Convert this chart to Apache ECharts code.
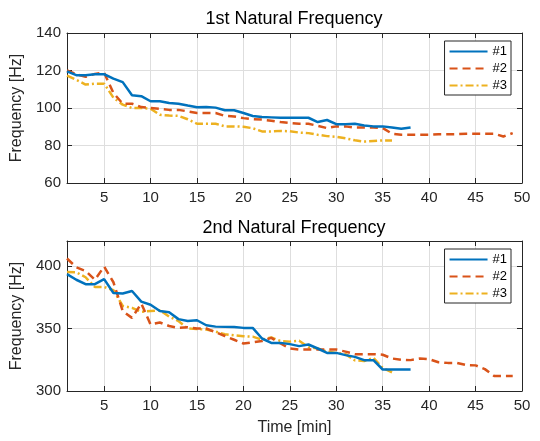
<!DOCTYPE html>
<html>
<head>
    <meta charset="utf-8"/>
    <title>Natural Frequency</title>
    <script src="https://cdn.jsdelivr.net/npm/echarts@6/dist/echarts.min.js"></script>
</head>
<body style="margin:0;">
    <div id="main" style="width: 540px; height: 441px;"></div>
    <script type="text/javascript">
        // 1st natural frequency [Hz], one value per minute starting at t = 1
        var f1_s1 = [119.5, 117.5, 117.5, 118, 118, 115.7, 113.8, 106.8, 106.3, 103.6, 103.6, 102.7, 102.3, 101.3, 100.4, 100.5, 100.2, 98.8, 98.8, 97.3,
            95.7, 95.2, 95, 94.8, 94.8, 94.8, 94.8, 92.5, 93.6, 91.4, 91.4, 91.6, 90.7, 90.2, 90.2, 89.6, 88.9, 89.6];
        var f1_s2 = [120, 118, 116.6, 118.2, 118.8, 108, 102.3, 102.3, 100.5, 100, 99.5, 99, 99, 98.2, 97.3, 97.3, 97.3, 95.8, 95.5, 94.6,
            94, 93.8, 93.2, 92.5, 92, 91.6, 91.6, 90.5, 89.3, 90.2, 90.2, 89.6, 89.6, 89.6, 89.3, 86.3, 85.7, 85.7, 85.7, 85.7,
            86, 86, 86, 86.3, 86.3, 86.3, 86.3, 84.8, 86.6];
        var f1_s3 = [117.3, 115, 112.5, 113, 113, 105.5, 101.8, 100, 100, 99.6, 96.4, 96, 95.8, 94, 91.6, 91.6, 91.6, 90.2, 90.2, 90,
            89.2, 87.5, 87.5, 87.8, 87.6, 86.9, 86.6, 85.7, 85, 84.6, 83.8, 82.8, 82.1, 82.4, 82.7, 82.7];

        // 2nd natural frequency [Hz]
        var f2_s1 = [393.5, 389, 385.5, 385.5, 389.5, 378.4, 378, 380, 371.5, 369, 364, 363, 357.5, 356, 356.6, 352.6, 351.5, 351.3, 351.2, 350.5,
            350.5, 342, 338.5, 338.5, 337.5, 335.9, 337.2, 334, 330.5, 330.5, 328.7, 327.3, 324.7, 324.7, 317.2, 317.2, 317.2, 317.2];
        var f2_s2 = [406, 399, 396, 389, 399.5, 387, 364, 358.5, 370, 353.2, 354.8, 352, 350.5, 351, 350, 350, 347, 344, 341, 338,
            339, 340, 342.5, 338, 334, 333.2, 333.2, 333.2, 333.2, 333.2, 331.5, 329.5, 329.5, 329.5, 329, 326, 325, 324.7, 326, 325.5,
            323, 322.5, 322.5, 320.7, 320.5, 317.5, 312, 312, 312];
        var f2_s3 = [395.2, 395, 391, 383.2, 383.2, 380.6, 368, 366.5, 363.3, 364, 364.6, 359.5, 356, 350, 349.5, 349.2, 347.5, 345.4, 344.5, 343.8,
            343.5, 341, 342.8, 340, 339.5, 340.2, 335, 334, 331.5, 330.5, 329.5, 324.5, 324, 326.5, 318.5, 315];

        var seriesNames = ['#1', '#2', '#3'];
        var titles = ['1st Natural Frequency', '2nd Natural Frequency'];
        var xTicks = [5, 10, 15, 20, 25, 30, 35, 40, 45, 50];
        var yTicks1 = [60, 80, 100, 120, 140];
        var yTicks2 = [300, 350, 400];

        var colors = ['#0072BD', '#D95319', '#EDB120'];
        var lineTypes = ['solid', [8, 5], [8, 3, 2, 3]];
        var font = 'Liberation Sans, Arial, sans-serif';
        var ink = '#262626';

        var toPairs = function (arr) {
            var res = [];
            for (var i = 0; i < arr.length; i++) {
                res.push([i + 1, arr[i]]);
            }
            return res;
        };

        var grids = [
            {left: 67, top: 33, width: 455, height: 150},
            {left: 67, top: 241, width: 455, height: 150}
        ];

        function xAxisFor(gridIndex, bottom, withName) {
            return {
                type: 'value', gridIndex: gridIndex, position: bottom ? 'bottom' : 'top',
                min: 1, max: 50,
                name: withName ? 'Time [min]' : '', nameLocation: 'middle', nameGap: 29,
                nameTextStyle: {fontFamily: font, fontSize: 16, color: ink},
                axisLine: {show: true, onZero: false, lineStyle: {color: ink, width: 1}},
                axisTick: {show: true, inside: true, length: 5, customValues: xTicks, lineStyle: {color: ink}},
                axisLabel: {show: bottom, customValues: xTicks, margin: 7, fontFamily: font, fontSize: 15, color: ink},
                splitLine: {show: bottom, lineStyle: {color: '#dedede', width: 1}}
            };
        }

        function yAxisFor(gridIndex, left, lo, hi, ticks) {
            return {
                type: 'value', gridIndex: gridIndex, position: left ? 'left' : 'right',
                min: lo, max: hi,
                name: left ? 'Frequency [Hz]' : '', nameLocation: 'middle', nameGap: 38,
                nameTextStyle: {fontFamily: font, fontSize: 16, color: ink},
                axisLine: {show: true, onZero: false, lineStyle: {color: ink, width: 1}},
                axisTick: {show: true, inside: true, length: 5, customValues: ticks, lineStyle: {color: ink}},
                axisLabel: {show: left, customValues: ticks, margin: 6, fontFamily: font, fontSize: 15, color: ink},
                splitLine: {show: left, lineStyle: {color: '#dedede', width: 1}}
            };
        }

        var allData = [[f1_s1, f1_s2, f1_s3], [f2_s1, f2_s2, f2_s3]];
        var series = [];
        for (var g = 0; g < 2; g++) {
            for (var s = 0; s < 3; s++) {
                series.push({
                    name: seriesNames[s],
                    type: 'line',
                    xAxisIndex: g * 2,
                    yAxisIndex: g * 2,
                    data: toPairs(allData[g][s]),
                    showSymbol: false,
                    symbol: 'none',
                    color: colors[s],
                    lineStyle: {color: colors[s], width: 2.5, type: lineTypes[s]},
                    z: 3 - s
                });
            }
        }

        function legendAt(top) {
            return {
                orient: 'vertical', right: 29, top: top,
                data: seriesNames,
                itemWidth: 38, itemHeight: 14, itemGap: 4,
                padding: [4, 4, 3, 4],
                backgroundColor: '#ffffff', borderColor: ink, borderWidth: 1, borderRadius: 0,
                itemStyle: {opacity: 0, borderWidth: 0},
                textStyle: {fontFamily: font, fontSize: 13, color: '#000'},
                selectedMode: false
            };
        }

        var chart = echarts.init(document.getElementById('main'));
        var option = {
            animation: false,
            backgroundColor: '#ffffff',
            grid: grids,
            xAxis: [xAxisFor(0, true, false), xAxisFor(0, false, false), xAxisFor(1, true, true), xAxisFor(1, false, false)],
            yAxis: [yAxisFor(0, true, 60, 140, yTicks1), yAxisFor(0, false, 60, 140, yTicks1),
                yAxisFor(1, true, 300, 420, yTicks2), yAxisFor(1, false, 300, 420, yTicks2)],
            legend: [legendAt(41), legendAt(249)],
            graphic: [
                {type: 'text', x: 294, y: 19, style: {text: titles[0], font: '18px ' + font, fill: '#000', textAlign: 'center', textVerticalAlign: 'middle'}},
                {type: 'text', x: 294, y: 228, style: {text: titles[1], font: '18px ' + font, fill: '#000', textAlign: 'center', textVerticalAlign: 'middle'}}
            ],
            series: series
        };
        chart.setOption(option);
    </script>
</body>
</html>
